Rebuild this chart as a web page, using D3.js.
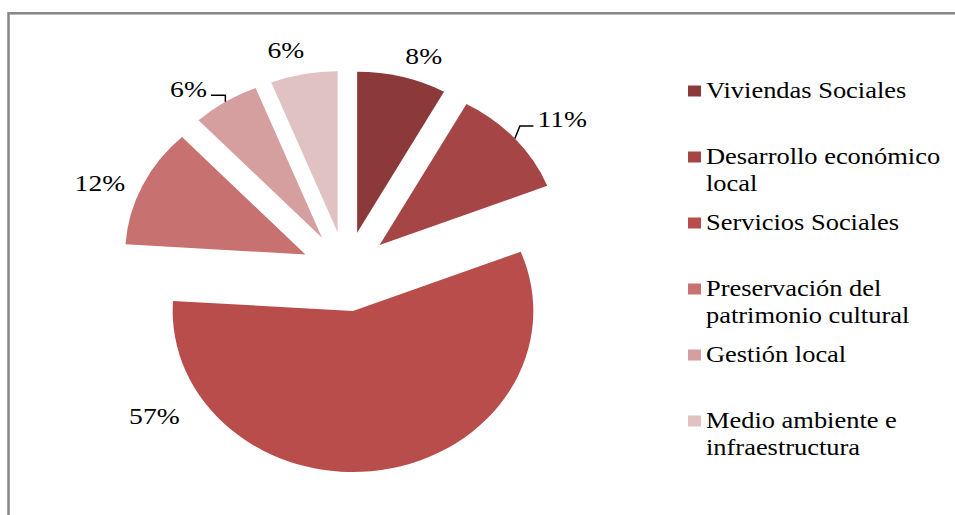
<!DOCTYPE html>
<html>
<head>
<meta charset="utf-8">
<script src="https://cdn.jsdelivr.net/npm/d3@7"></script>
<style>
  body { margin: 0; background: #fff; }
</style>
</head>
<body>
<svg id="chart" width="955" height="515"></svg>
<script>
// data
var categories = ["Viviendas Sociales", "Desarrollo económico local", "Servicios Sociales",
                  "Preservación del patrimonio cultural", "Gestión local", "Medio ambiente e infraestructura"];
var values = [8, 11, 57, 12, 6, 6];
var colors = ["#8b3939", "#a64545", "#b84d4b", "#c77170", "#d69f9f", "#e1c2c3"];

// layout
var cx = 346, cy = 271.5, radius = 161, explode = 40, sx = 1.12, tx = 1.15;
var fontFam = "'Liberation Serif', 'Times New Roman', Times, serif";
// label placement: angle nudge from slice middle (deg), radius, leader line or not
var labelNudge = [3.4, 3.1, 58.8, -3.2, -5.1, -2.8];
var labelRadius = [227, 246, 224, 237, 231, 228];
var leader = [false, true, false, false, true, false];

var svg = d3.select("#chart");

// outer frame (right and bottom run off the picture)
svg.append("rect")
    .attr("x", 8.5).attr("y", 13.3)
    .attr("width", 980).attr("height", 540)
    .attr("fill", "none")
    .attr("stroke", "#868686")
    .attr("stroke-width", 2.5);

var pie = d3.pie().sort(null).value(function (d) { return d; });
var arcs = pie(values);
var arc = d3.arc().innerRadius(0).outerRadius(radius);

var g = svg.append("g").attr("transform", "translate(" + cx + "," + cy + ") scale(" + sx + ",1)");

g.selectAll("path").data(arcs).enter().append("path")
    .attr("d", arc)
    .attr("fill", function (d, i) { return colors[i]; })
    .attr("transform", function (d) {
        var mid = (d.startAngle + d.endAngle) / 2;
        return "translate(" + (Math.sin(mid) * explode) + "," + (-Math.cos(mid) * explode) + ")";
    });

// screen point from unscaled polar coords
function pt(angle, r) {
    return [cx + sx * r * Math.sin(angle), cy - r * Math.cos(angle)];
}

var total = d3.sum(values);
var labels = svg.append("g");

arcs.forEach(function (d, i) {
    var mid = (d.startAngle + d.endAngle) / 2;
    var a = mid + labelNudge[i] * Math.PI / 180;
    var p = pt(a, labelRadius[i]);
    var t = labels.append("text")
        .attr("transform", "translate(" + p[0] + "," + p[1] + ") scale(" + tx + ",1)")
        .attr("text-anchor", "middle")
        .attr("dy", "0.35em")
        .attr("font-family", fontFam)
        .attr("font-size", 24)
        .text(Math.round(d.value / total * 100) + "%");

    if (leader[i]) {
        var hw = t.node().getComputedTextLength() * tx / 2;
        // outer point of the exploded slice at its middle
        var o = pt(mid, explode + radius);
        var side = Math.sin(mid) > 0 ? 1 : -1;
        var ly = p[1] + 7;
        var ex = p[0] - side * (hw + 4);
        var kx = side > 0 ? o[0] + 5 : o[0];
        labels.append("path")
            .attr("d", "M" + o[0] + "," + o[1] + "L" + kx + "," + ly + "L" + ex + "," + ly)
            .attr("fill", "none")
            .attr("stroke", "#000")
            .attr("stroke-width", 1.5);
    }
});

// legend
var legendY = d3.scalePoint().domain(categories).range([91, 421]);
var legend = svg.append("g");
var maxW = 245;

categories.forEach(function (c, i) {
    var y = legendY(c);
    legend.append("rect")
        .attr("x", 688).attr("y", y - 5.5)
        .attr("width", 13).attr("height", 11)
        .attr("fill", colors[i]);

    // wrap words into lines
    var words = c.split(" ");
    var lines = [], line = [];
    var probe = legend.append("text").attr("font-family", fontFam).attr("font-size", 23);
    words.forEach(function (w) {
        var test = line.concat([w]).join(" ");
        probe.text(test);
        if (line.length && probe.node().getComputedTextLength() * tx > maxW) {
            lines.push(line.join(" "));
            line = [w];
        } else {
            line.push(w);
        }
    });
    lines.push(line.join(" "));
    probe.remove();

    lines.forEach(function (l, k) {
        legend.append("text")
            .attr("transform", "translate(706," + (y + 7 + k * 27) + ") scale(" + tx + ",1)")
            .attr("font-family", fontFam)
            .attr("font-size", 23)
            .text(l);
    });
});
</script>
</body>
</html>
